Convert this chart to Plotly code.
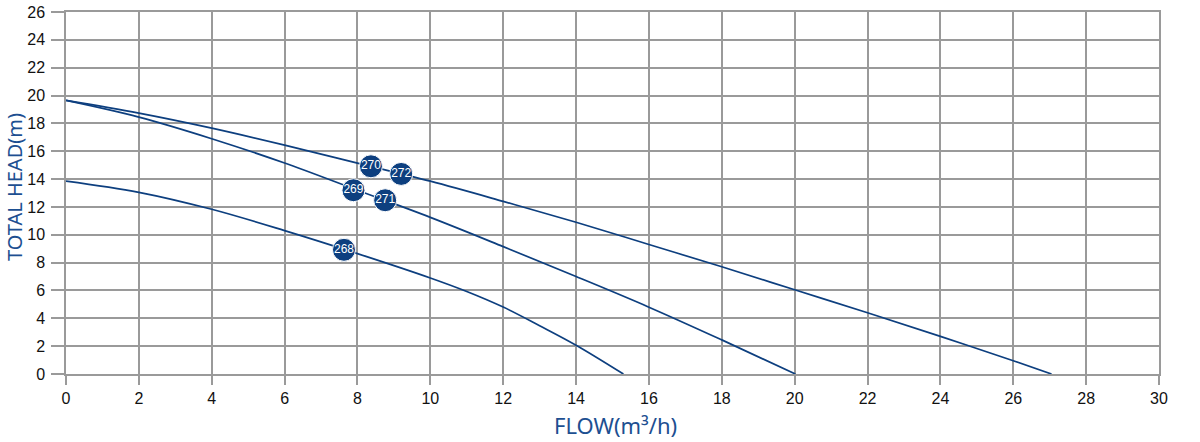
import plotly.graph_objects as go

# pump curves (flow m3/h, head m)
flow_268 = [0, 2, 4, 6, 8, 10, 11, 12, 13, 14, 15.3]
head_268 = [13.86, 13.05, 11.83, 10.3, 8.65, 6.9, 5.93, 4.81, 3.47, 2.07, 0]

flow_269 = [0, 2, 4, 6, 8, 10, 12, 14, 16, 18, 20.02]
head_269 = [19.65, 18.45, 16.9, 15.15, 13.2, 11.25, 9.15, 7.0, 4.8, 2.45, 0]

flow_270 = [0, 2, 4, 6, 8, 10, 12, 14, 16, 18, 20, 22, 24, 26, 27.05]
head_270 = [19.65, 18.74, 17.66, 16.44, 15.15, 13.85, 12.4, 10.9, 9.3, 7.7, 6.05, 4.4, 2.7, 0.95, 0]

# model badges sitting on the curves
badge_names = ["268", "269", "271", "270", "272"]
badge_flow = [7.63, 7.89, 8.76, 8.37, 9.2]
badge_head = [8.92, 13.2, 12.48, 14.92, 14.37]

navy = "#0d3f7f"
grey = "#9a9a9a"
title_blue = "#1d4f91"

fig = go.Figure()
for fx, hy in [(flow_268, head_268), (flow_269, head_269), (flow_270, head_270)]:
    fig.add_trace(go.Scatter(x=fx, y=hy, mode="lines", line=dict(color=navy, width=1.7, shape="spline"),
                             hoverinfo="skip", showlegend=False))

fig.add_trace(go.Scatter(x=badge_flow, y=badge_head, mode="markers+text", text=badge_names,
                         textposition="middle center",
                         textfont=dict(color="white", size=12, family="Liberation Sans Narrow, Liberation Sans"),
                         marker=dict(size=23, color=navy, line=dict(color="white", width=1)),
                         showlegend=False))

fig.update_layout(
    width=1200, height=442,
    margin=dict(l=66, r=41, t=12, b=68),
    plot_bgcolor="white", paper_bgcolor="white",
    font=dict(family="Liberation Sans, Arial", size=16, color="#111"),
)
fig.update_xaxes(range=[0, 30], dtick=2, tick0=0, showgrid=True, gridcolor=grey, gridwidth=1.5,
                 showline=True, mirror=True, linecolor=grey, linewidth=1.5, zeroline=False,
                 ticks="outside", ticklen=9, tickcolor=grey, tickwidth=1.5, automargin=False)
fig.update_yaxes(range=[0, 26], dtick=2, tick0=0, showgrid=True, gridcolor=grey, gridwidth=1.5,
                 showline=True, mirror=True, linecolor=grey, linewidth=1.5, zeroline=False,
                 ticks="outside", ticklen=13, tickcolor=grey, tickwidth=1.5, automargin=False,
                 ticklabelstandoff=3)

# axis titles as annotations so they sit where the original has them
fig.add_annotation(text="FLOW(m³/h)", xref="paper", yref="paper", x=0.5, y=0, xshift=3, yshift=-51,
                   xanchor="center", yanchor="middle",
                   showarrow=False, font=dict(family="Noto Sans", size=22, color=title_blue))
fig.add_annotation(text="TOTAL HEAD(m)", xref="paper", yref="paper", x=0, y=0.5, xshift=-52, yshift=6,
                   xanchor="center", yanchor="middle",
                   textangle=-90, showarrow=False, font=dict(family="Noto Sans", size=20, color=title_blue))

fig.write_html("out.html", config={"displayModeBar": False},
               post_script="document.body.style.margin='0';")
